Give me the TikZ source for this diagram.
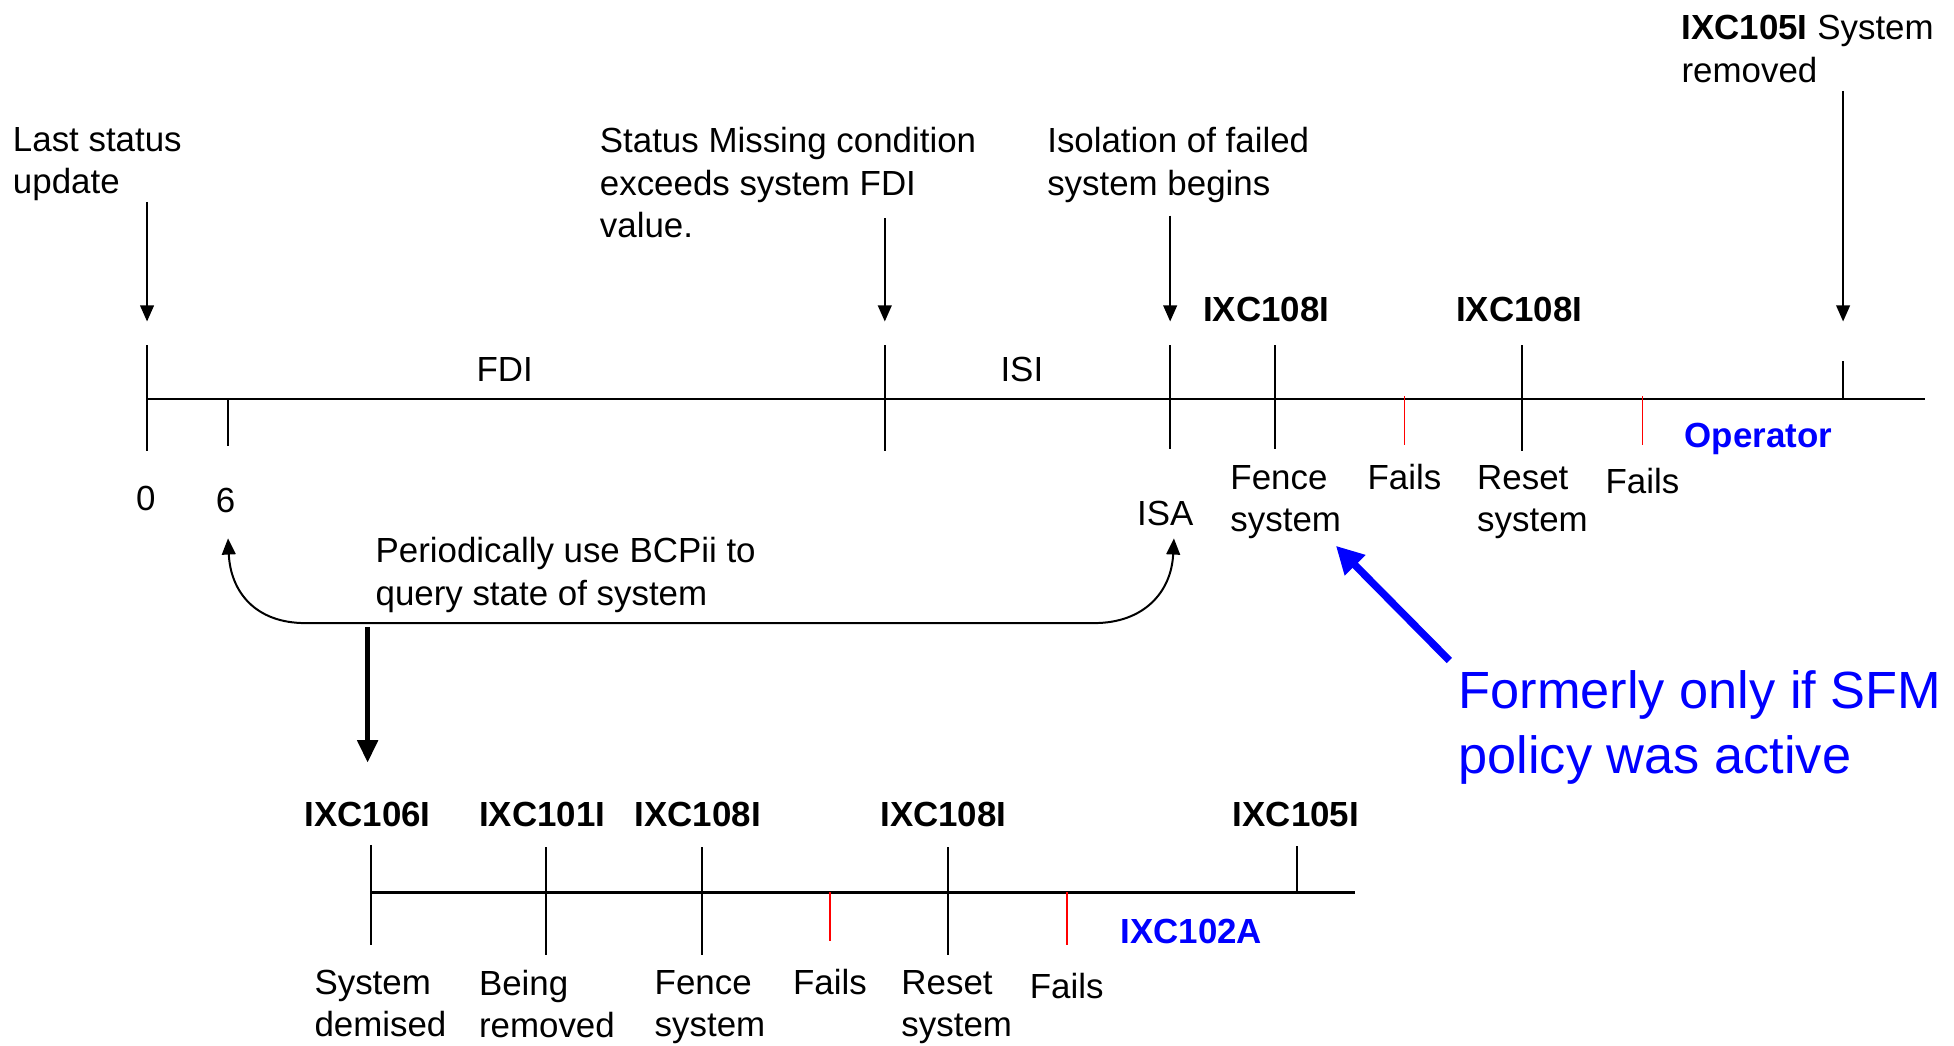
\documentclass[tikz,border=0pt]{standalone}
\usepackage{fontspec}
\setmainfont{Liberation Sans}
\usetikzlibrary{arrows.meta}

\begin{document}
\begin{tikzpicture}[x=0.5pt,y=-0.5pt,
  lbl/.style={font=\fontsize{14}{17}\selectfont, inner sep=0pt, align=left, anchor=north west},
  mid/.style={font=\fontsize{14}{17}\selectfont, inner sep=0pt, anchor=base},
  code/.style={font=\fontsize{14}{17}\selectfont\bfseries, inner sep=0pt, anchor=base},
  bluecode/.style={code, text={rgb,255:red,0;green,0;blue,255}},
  axis/.style={line width=1pt},
  tick/.style={line width=0.75pt},
  redtick/.style={line width=0.75pt, draw=red},
  thinarrow/.style={line width=0.8pt, -{Triangle[length=6.5pt,width=5.5pt]}},
  bigarrow/.style={line width=2pt, -{Triangle[length=9pt,width=8pt]}},
  curvearrow/.style={line width=0.8pt, {Triangle[length=6.5pt,width=5.5pt]}-{Triangle[length=6.5pt,width=5.5pt]}},
  notearrow/.style={line width=3pt, draw={rgb,255:red,0;green,0;blue,255}, -{Triangle[length=11pt,width=11pt]}},
  note/.style={font=\fontsize{21}{26}\selectfont, inner sep=0pt, align=left, anchor=north west, text={rgb,255:red,0;green,0;blue,255}}
]
\useasboundingbox (0,0) rectangle (1568,839);

% ---------- upper time line ----------
\draw[axis] (118,320) -- (1545,320);
\draw[tick] (118,277) -- (118,362);
\draw[tick] (183,320) -- (183,358);
\draw[tick] (710,277) -- (710,362);
\draw[tick] (939,277) -- (939,360);
\draw[tick] (1023,277) -- (1023,360);
\draw[redtick] (1127,318) -- (1127,357);
\draw[tick] (1221,277) -- (1221,362);
\draw[redtick] (1318,318) -- (1318,357);
\draw[tick] (1479,290) -- (1479,320);

% event descriptions above the line
\node[lbl] (lastupd) at (10,102) {Last status\\update};
\node[lbl] (missing) at (481,102) {Status Missing condition\\exceeds system FDI\\value.};
\node[lbl] (isolate) at (840,102) {Isolation of failed\\system begins};
\node[lbl] (removed) at (1349,12) {\textbf{IXC105I} System\\removed};

\coordinate (a0s) at (118,162);  \coordinate (a0e) at (118,258);
\coordinate (a1s) at (710,175);  \coordinate (a1e) at (710,258);
\coordinate (a2s) at (939,173);  \coordinate (a2e) at (939,258);
\coordinate (a3s) at (1479,73);  \coordinate (a3e) at (1479,258);
\draw[thinarrow] (a0s) -- (a0e);
\draw[thinarrow] (a1s) -- (a1e);
\draw[thinarrow] (a2s) -- (a2e);
\draw[thinarrow] (a3s) -- (a3e);

% interval and message labels
\node[mid] (fdi) at (405,306) {FDI};
\node[mid] (isi) at (820,306) {ISI};
\node[code] (m108a) at (1016,258) {IXC108I};
\node[code] (m108b) at (1219,258) {IXC108I};
\node[bluecode] (oper) at (1411,359) {Operator};

% labels below the line
\node[mid] (zero) at (117,410) {0};
\node[mid] (six) at (181,411) {6};
\node[mid] (isa) at (935,422) {ISA};
\node[lbl] (fence) at (987,373) {Fence\\system};
\node[mid] (fails1) at (1127,393) {Fails};
\node[lbl] (reset) at (1185,373) {Reset\\system};
\node[mid] (fails2) at (1318,396) {Fails};

% periodic BCPii query loop
\coordinate (q6) at (183,432);
\coordinate (qisa) at (942,432);
\draw[curvearrow] (q6) .. controls (185,475) and (205,500) .. (245,500)
  -- (878,500) .. controls (918,500) and (940,475) .. (qisa);
\node[lbl] (query) at (301,431) {Periodically use BCPii to\\query state of system};

\coordinate (dn1) at (295,503);
\coordinate (dn2) at (295,612);
\draw[bigarrow] (dn1) -- (dn2);

% note on fencing
\coordinate (ns) at (1163,530);
\coordinate (ne) at (1072,438);
\draw[notearrow] (ns) -- (ne);
\node[note] (former) at (1170,538) {Formerly only if SFM\\policy was active};

% ---------- lower time line ----------
\draw[axis] (298,716) -- (1087,716);
\draw[tick] (298,678) -- (298,758);
\draw[tick] (438,680) -- (438,766);
\draw[tick] (563,680) -- (563,766);
\draw[redtick] (666,716) -- (666,755);
\draw[tick] (761,680) -- (761,766);
\draw[redtick] (856,716) -- (856,758);
\draw[tick] (1041,679) -- (1041,716);

\node[code] (b106) at (295,663) {IXC106I};
\node[code] (b101) at (435,663) {IXC101I};
\node[code] (b108a) at (560,663) {IXC108I};
\node[code] (b108b) at (757,663) {IXC108I};
\node[code] (b105) at (1040,663) {IXC105I};
\node[bluecode] (b102) at (956,757) {IXC102A};

\node[lbl] (demised) at (252,778) {System\\demised};
\node[lbl] (being) at (384,778) {Being\\removed};
\node[lbl] (bfence) at (525,778) {Fence\\system};
\node[mid] (bfails1) at (666,798) {Fails};
\node[lbl] (breset) at (723,778) {Reset\\system};
\node[mid] (bfails2) at (856,801) {Fails};
\end{tikzpicture}
\end{document}
